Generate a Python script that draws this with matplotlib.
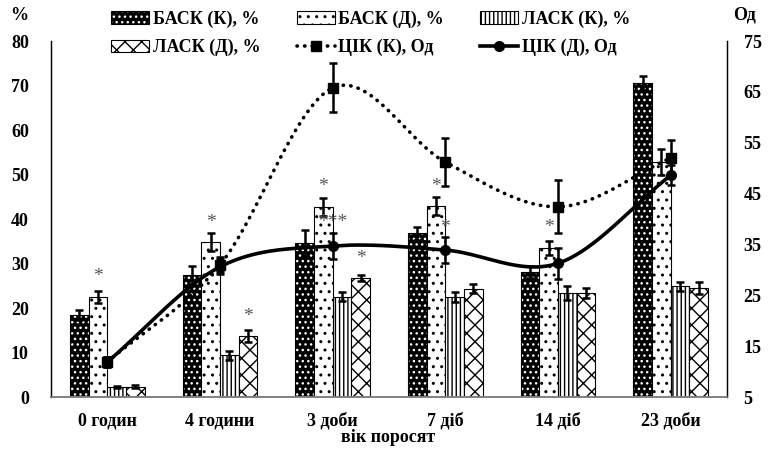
import numpy as np
import matplotlib
matplotlib.use('Agg')
import matplotlib.pyplot as plt
from matplotlib.patches import Patch
from matplotlib.lines import Line2D
from matplotlib.legend_handler import HandlerTuple

plt.rcParams['font.family'] = ['Liberation Serif', 'DejaVu Serif']
plt.rcParams['font.weight'] = 'bold'
plt.rcParams['hatch.linewidth'] = 1.0

groups = ['0 годин', '4 години', '3 доби', '7 діб', '14 діб', '23 доби']

bask_k = [18.4, 27.4, 34.6, 36.8, 28.1, 70.6]
bask_k_err = [1.1, 2.0, 3.0, 1.5, 1.3, 1.5]
bask_d = [22.5, 34.8, 42.7, 42.9, 33.5, 52.8]
bask_d_err = [1.3, 2.0, 2.0, 2.0, 1.5, 3.0]
lask_k = [2.2, 9.4, 22.5, 22.5, 23.4, 24.9]
lask_k_err = [0.2, 1.0, 1.0, 1.2, 1.5, 1.0]
lask_d = [2.3, 13.7, 26.7, 24.3, 23.4, 24.5]
lask_d_err = [0.3, 1.3, 0.7, 1.0, 1.2, 1.3]

cik_k = [11.9, 31.0, 65.8, 51.2, 42.4, 52.0]
cik_k_err = [1.0, 1.5, 4.8, 4.7, 5.2, 3.5]
cik_d = [11.9, 30.6, 34.7, 33.9, 31.3, 48.6]
cik_d_err = [1.0, 1.5, 2.5, 2.5, 3.0, 2.0]

# significance marks: (group, bar slot, height in %, text)
stars = [(0, 1, 27.0, '*'), (1, 1, 39.3, '*'), (1, 3, 18.2, '*'),
         (2, 1, 47.2, '*'), (2, None, 39.3, '***'), (2, 3, 31.2, '*'),
         (3, 1, 47.2, '*'), (3, None, 38.2, '*'), (4, 1, 38.0, '*')]


def smooth(xs, ys, n=40):
    # catmull-rom like excel smoothed line
    xs = np.asarray(xs, float)
    ys = np.asarray(ys, float)
    px = np.concatenate([[2 * xs[0] - xs[1]], xs, [2 * xs[-1] - xs[-2]]])
    py = np.concatenate([[2 * ys[0] - ys[1]], ys, [2 * ys[-1] - ys[-2]]])
    ox, oy = [], []
    t = np.linspace(0, 1, n)
    for i in range(1, len(px) - 2):
        p0, p1, p2, p3 = [np.array([px[j], py[j]]) for j in range(i - 1, i + 3)]
        for tt in t:
            pt = 0.5 * ((2 * p1) + (-p0 + p2) * tt + (2 * p0 - 5 * p1 + 4 * p2 - p3) * tt ** 2
                        + (-p0 + 3 * p1 - 3 * p2 + p3) * tt ** 3)
            ox.append(pt[0])
            oy.append(pt[1])
    return ox, oy


fig = plt.figure(figsize=(7.69, 4.51), dpi=100)
ax = fig.add_axes([0.0663, 0.1197, 0.8791, 0.7893])
ax2 = ax.twinx()

x = np.arange(len(groups))
w = 0.165
offs = [-1.5 * w, -0.5 * w, 0.5 * w, 1.5 * w]
ekw = dict(ecolor='black', elinewidth=1.8, capsize=3, capthick=1.8)

ax.bar(x + offs[0], bask_k, w, color='black', edgecolor='white', hatch='...', lw=0, zorder=2)
ax.bar(x + offs[0], bask_k, w, fill=False, edgecolor='black', lw=0.8, zorder=2)
ax.errorbar(x + offs[0], bask_k, yerr=bask_k_err, fmt='none', zorder=3, **ekw)

ax.bar(x + offs[1], bask_d, w, color='white', edgecolor='black', hatch='..', lw=0.8, zorder=2)
ax.errorbar(x + offs[1], bask_d, yerr=bask_d_err, fmt='none', zorder=3, **ekw)

ax.bar(x + offs[2], lask_k, w, color='white', edgecolor='black', hatch='||||', lw=0.8, zorder=2)
ax.errorbar(x + offs[2], lask_k, yerr=lask_k_err, fmt='none', zorder=3, **ekw)

ax.bar(x + offs[3], lask_d, w, color='white', edgecolor='black', hatch='xx', lw=0.8, zorder=2)
ax.errorbar(x + offs[3], lask_d, yerr=lask_d_err, fmt='none', zorder=3, **ekw)

for g, slot, h, s in stars:
    xp = g if slot is None else g + offs[slot]
    ax.text(xp, h, s, ha='center', va='center', fontsize=14, color='#555555',
            fontweight='normal', zorder=4)

sx, sy = smooth(x, cik_k)
ax2.plot(sx, sy, color='black', lw=2.6, linestyle=(0, (0.1, 2.0)), dash_capstyle='round', zorder=5)
ax2.errorbar(x, cik_k, yerr=cik_k_err, fmt='s', color='black', ms=7, zorder=6, **ekw)
sx, sy = smooth(x, cik_d)
ax2.plot(sx, sy, color='black', lw=2.6, zorder=5)
ax2.errorbar(x, cik_d, yerr=cik_d_err, fmt='o', color='black', ms=7, zorder=6, **ekw)

ax.set_xlim(-0.5, len(groups) - 0.5)
ax.set_ylim(0, 80)
ax.set_yticks(range(0, 81, 10))
ax2.set_ylim(5, 75)
ax2.set_yticks(range(5, 76, 10))
ax.set_xticks(x)
ax.set_xticklabels(groups)
for a in (ax, ax2):
    a.tick_params(axis='both', length=0, labelsize=13)
    a.spines['top'].set_visible(False)
    a.spines['bottom'].set_color('#808080')
    a.spines['bottom'].set_linewidth(1.2)
    a.spines['left'].set_linewidth(0.9)
    a.spines['right'].set_linewidth(0.9)
ax.tick_params(axis='y', pad=16)
ax2.tick_params(axis='y', pad=12)
ax.tick_params(axis='x', pad=11)

fig.text(10 / 769, 1 - 15 / 451, '%', fontsize=13, ha='left', va='center')
fig.text(733 / 769, 1 - 15 / 451, 'Од', fontsize=13, ha='left', va='center')
fig.text(388 / 769, 1 - 438 / 451, 'вік поросят', fontsize=13, ha='center', va='center')

h1 = (Patch(facecolor='black', edgecolor='white', hatch='...', lw=0),
      Patch(fill=False, edgecolor='black', lw=0.8))
h2 = Patch(facecolor='white', edgecolor='black', hatch='..', lw=0.8)
h3 = Patch(facecolor='white', edgecolor='black', hatch='||||', lw=0.8)
h4 = Patch(facecolor='white', edgecolor='black', hatch='xx', lw=0.8)
h5 = Line2D([], [], color='black', lw=2.6, linestyle=(0, (0.1, 2.0)), dash_capstyle='round',
            marker='s', ms=7)
h6 = Line2D([], [], color='black', lw=2.6, marker='o', ms=7)
handles = [h1, h4, h2, h5, h3, h6]
labels = ['БАСК (К), %', 'ЛАСК (Д), %', 'БАСК (Д), %', 'ЦІК (К), Од', 'ЛАСК (К), %', 'ЦІК (Д), Од']
leg = ax2.legend(handles, labels, ncol=3, loc='center', bbox_to_anchor=(0.473, 1.021),
                 frameon=False, fontsize=13, handlelength=2.1, handletextpad=0.2,
                 columnspacing=2.0, labelspacing=0.6,
                 handler_map={tuple: HandlerTuple(ndivide=1, pad=0)})

fig.savefig('out.png', dpi=100)
